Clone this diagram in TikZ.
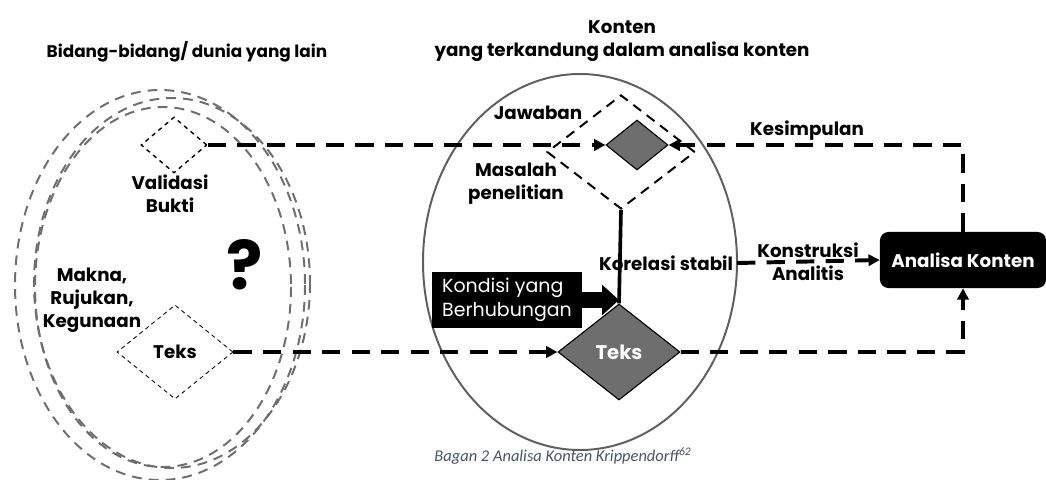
\documentclass[tikz,border=0pt]{standalone}
\usepackage{fontspec}
\setmainfont{Poppins}
\newfontfamily\capfont{Carlito}
\usetikzlibrary{arrows.meta,shapes.geometric}
\definecolor{capblue}{RGB}{68,84,106}
\definecolor{dgray}{RGB}{110,110,110}
\definecolor{egray}{RGB}{95,95,95}

\begin{document}
\begin{tikzpicture}[x=0.025cm, y=-0.025cm,
	lbl/.style={font=\bfseries\fontsize{13}{16.3}\selectfont, align=center, inner sep=1pt},
	conn/.style={line width=2.8pt, dash pattern=on 13pt off 8pt},
	tip/.style={-{Triangle[width=8pt,length=8pt]}},
	ghost/.style={dash pattern=on 7pt off 5pt, line width=1.4pt, dgray},
	hollow/.style={diamond, draw, inner sep=0pt},
	solidd/.style={diamond, draw, fill=dgray, line width=0.8pt, inner sep=0pt}]
	\useasboundingbox (0,0) rectangle (1046,480);

	% left side: the other fields
	\draw[ghost] (160,285) ellipse [x radius=145, y radius=195];
	\draw[ghost] (172,283) ellipse [x radius=138, y radius=185];
	\draw[ghost] (163,287) ellipse [x radius=128, y radius=180];

	\node[lbl, font=\bfseries\fontsize{12}{15}\selectfont] (bidang) at (187,52) {Bidang-bidang/ dunia yang lain};
	\node[hollow, dashed, line width=1pt, minimum width=1.65cm, minimum height=1.4cm] (validasi) at (174,145) {};
	\node[lbl] (vlabel) at (170,194) {Validasi\\Bukti};
	\node[hollow, dash pattern=on 3pt off 2.5pt, line width=0.6pt, minimum width=2.9cm, minimum height=2.35cm, font=\bfseries\fontsize{13}{16}\selectfont] (teksA) at (175,352) {Teks};
	\node[lbl] (makna) at (92,300) {Makna,\\Rujukan,\\Kegunaan};
	\node[font=\bfseries\fontsize{48}{48}\selectfont] (tanya) at (245,265) {?};

	% centre: the content
	\draw[egray, line width=1.4pt] (580,262) ellipse [x radius=157, y radius=188];
	\node[lbl] (konten) at (622,41) {Konten\\yang terkandung dalam analisa konten};
	\node[hollow, dash pattern=on 7pt off 5pt, line width=1.4pt, minimum width=3.7cm, minimum height=2.85cm] (masalah) at (621,152) {};
	\node[solidd, minimum width=1.55cm, minimum height=1.25cm] (jawaban) at (637,145) {};
	\node[lbl] (jlabel) at (538,113) {Jawaban};
	\node[lbl] (mlabel) at (516,184) {Masalah\\penelitian};
	\node[solidd, minimum width=3.05cm, minimum height=2.4cm, text=white, font=\bfseries\fontsize{14}{16}\selectfont] (teksB) at (619,352) {Teks};
	\node[fill=black, text=white, minimum width=3.725cm, minimum height=1.4cm, align=left, inner sep=2pt, font=\fontsize{13.5}{17}\selectfont] (kondisi) at (507,300) {Kondisi yang\\Berhubungan};
	\node[lbl] (korelasi) at (666,263) {Korelasi stabil};
	\coordinate (kedge) at (737,263);

	% right: the analysis
	\node[fill=black, text=white, rounded corners=6pt, minimum width=4.15cm, minimum height=1.4cm, font=\bfseries\fontsize{13}{16}\selectfont] (analisa) at (963,260) {Analisa Konten};
	\node[lbl] (kesimpulan) at (807,131) {Kesimpulan};
	\node[lbl] (konstruksi) at (808,262) {Konstruksi\\Analitis};

	\draw[line width=2.6pt] (masalah.south) -- (teksB.north);
	\draw[line width=12pt, -{Triangle[width=21pt,length=12pt]}] (kondisi.east) -- (kondisi.east -| teksB.north);

	\draw[conn, tip] (validasi.east) -- (jawaban.west);
	\draw[conn, tip] (analisa.north) |- (jawaban.east);
	\draw[conn, tip] (teksA.east) -- (teksB.west);
	\draw[conn, tip] (teksB.east) -| (analisa.south);
	\draw[conn, tip] (kedge) -- (analisa.west);

	\node[text=capblue, font=\capfont\itshape\fontsize{11.7}{14}\selectfont] (caption) at (563,456) {Bagan 2 Analisa Konten Krippendorff\textsuperscript{62}};
\end{tikzpicture}
\end{document}
